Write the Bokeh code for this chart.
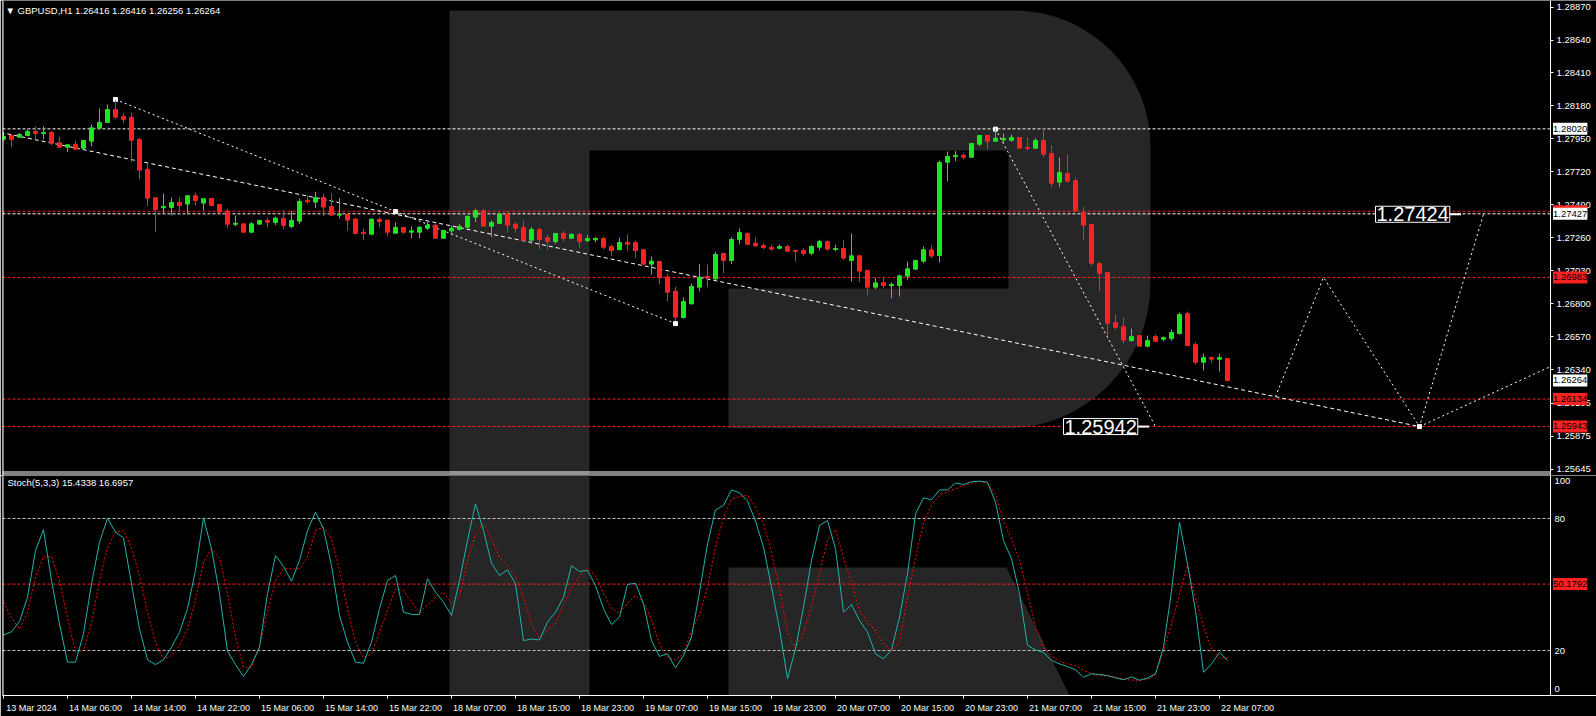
from bokeh.plotting import figure
from bokeh.layouts import column
from bokeh.models import Range1d, FixedTicker, Span, Label, BoxAnnotation, ColumnDataSource
from bokeh.embed import file_html
from bokeh.resources import INLINE
import numpy as np

# ---------------- data ----------------
opens = [1.27948,1.27974,1.27962,1.27974,1.28002,1.27988,1.27995,1.27923,1.27892,1.27911,
 1.27885,1.27934,1.28025,1.28065,1.28155,1.28107,1.28100,1.27946,1.27737,1.27539,
 1.27469,1.27471,1.27506,1.27495,1.27553,1.27502,1.27534,1.27492,1.27446,1.27355,
 1.27357,1.27299,1.27355,1.27381,1.27367,1.27394,1.27339,1.27376,1.27522,1.27509,
 1.27541,1.27478,1.27418,1.27425,1.27390,1.27297,1.27285,1.27388,1.27383,1.27292,
 1.27332,1.27299,1.27299,1.27327,1.27348,1.27257,1.27308,1.27318,1.27334,1.27404,
 1.27448,1.27341,1.27360,1.27425,1.27355,1.27332,1.27243,1.27318,1.27262,1.27234,
 1.27290,1.27257,1.27283,1.27241,1.27246,1.27255,1.27199,1.27178,1.27227,1.27227,
 1.27176,1.27076,1.27094,1.26987,1.26887,1.26703,1.26799,1.26915,1.26990,1.26973,
 1.27150,1.27101,1.27248,1.27290,1.27222,1.27206,1.27192,1.27187,1.27199,1.27171,
 1.27171,1.27152,1.27194,1.27234,1.27178,1.27185,1.27101,1.27134,1.27032,1.26915,
 1.26945,1.26925,1.26927,1.26992,1.27041,1.27097,1.27176,1.27136,1.27787,1.27825,
 1.27836,1.27822,1.27913,1.27974,1.27934,1.27943,1.27941,1.27960,1.27890,1.27885,
 1.27939,1.27848,1.27648,1.27708,1.27659,1.27436,1.27352,1.27080,1.27017,1.26668,
 1.26640,1.26542,1.26577,1.26503,1.26570,1.26552,1.26556,1.26591,1.26731,1.26514,
 1.26391,1.26424,1.26412,1.26416]
highs = [1.27990,1.27979,1.27992,1.28016,1.28037,1.28037,1.28006,1.27967,1.27916,1.27937,
 1.27944,1.28051,1.28162,1.28190,1.28218,1.28132,1.28134,1.27958,1.27776,1.27539,
 1.27569,1.27541,1.27541,1.27553,1.27576,1.27532,1.27539,1.27497,1.27462,1.27415,
 1.27357,1.27369,1.27385,1.27401,1.27408,1.27450,1.27446,1.27534,1.27555,1.27581,
 1.27567,1.27569,1.27536,1.27427,1.27397,1.27325,1.27394,1.27401,1.27385,1.27367,
 1.27332,1.27339,1.27341,1.27371,1.27357,1.27313,1.27343,1.27355,1.27416,1.27462,
 1.27464,1.27381,1.27436,1.27446,1.27371,1.27381,1.27336,1.27329,1.27283,1.27292,
 1.27306,1.27292,1.27295,1.27281,1.27264,1.27269,1.27213,1.27260,1.27283,1.27241,
 1.27180,1.27129,1.27099,1.27008,1.26915,1.26843,1.26941,1.27078,1.27073,1.27162,
 1.27150,1.27264,1.27325,1.27297,1.27262,1.27222,1.27213,1.27211,1.27213,1.27176,
 1.27190,1.27208,1.27246,1.27241,1.27211,1.27241,1.27290,1.27141,1.27036,1.26978,
 1.26980,1.26948,1.27004,1.27094,1.27108,1.27199,1.27206,1.27799,1.27862,1.27866,
 1.27848,1.27918,1.27974,1.27974,1.28020,1.27987,1.27981,1.27960,1.27960,1.27957,
 1.28027,1.27904,1.27820,1.27841,1.27680,1.27478,1.27359,1.27094,1.27017,1.26724,
 1.26703,1.26624,1.26577,1.26577,1.26582,1.26570,1.26619,1.26738,1.26745,1.26531,
 1.26452,1.26433,1.26452,1.26416]
lows = [1.27934,1.27892,1.27960,1.27969,1.27939,1.27948,1.27906,1.27885,1.27858,1.27874,
 1.27878,1.27899,1.28020,1.28060,1.28088,1.28060,1.27788,1.27669,1.27481,1.27299,
 1.27432,1.27418,1.27446,1.27425,1.27485,1.27450,1.27485,1.27434,1.27327,1.27341,
 1.27292,1.27292,1.27353,1.27332,1.27348,1.27320,1.27327,1.27355,1.27497,1.27467,
 1.27411,1.27413,1.27394,1.27311,1.27283,1.27243,1.27283,1.27334,1.27271,1.27287,
 1.27285,1.27257,1.27257,1.27313,1.27253,1.27255,1.27280,1.27311,1.27329,1.27369,
 1.27341,1.27264,1.27355,1.27297,1.27295,1.27239,1.27218,1.27180,1.27174,1.27218,
 1.27232,1.27253,1.27187,1.27229,1.27229,1.27180,1.27132,1.27171,1.27171,1.27118,
 1.27069,1.27004,1.26934,1.26817,1.26678,1.26696,1.26794,1.26887,1.26913,1.26966,
 1.27013,1.27076,1.27215,1.27206,1.27194,1.27180,1.27171,1.27180,1.27162,1.27094,
 1.27134,1.27141,1.27171,1.27171,1.27166,1.27106,1.26955,1.26950,1.26859,1.26901,
 1.26908,1.26838,1.26850,1.26966,1.27034,1.27083,1.27118,1.27087,1.27655,1.27794,
 1.27806,1.27822,1.27899,1.27876,1.27934,1.27918,1.27929,1.27885,1.27869,1.27885,
 1.27822,1.27613,1.27613,1.27645,1.27438,1.27243,1.27064,1.26887,1.26575,1.26617,
 1.26524,1.26535,1.26496,1.26496,1.26535,1.26538,1.26540,1.26584,1.26503,1.26377,
 1.26333,1.26389,1.26326,1.26256]
closes = [1.27967,1.27946,1.27981,1.28002,1.27988,1.27995,1.27920,1.27892,1.27909,1.27878,
 1.27939,1.28027,1.28065,1.28155,1.28102,1.28086,1.27941,1.27732,1.27536,1.27457,
 1.27478,1.27506,1.27485,1.27553,1.27520,1.27532,1.27485,1.27439,1.27355,1.27360,
 1.27299,1.27357,1.27381,1.27369,1.27397,1.27346,1.27381,1.27513,1.27511,1.27541,
 1.27474,1.27418,1.27425,1.27383,1.27290,1.27290,1.27390,1.27374,1.27299,1.27332,
 1.27299,1.27308,1.27334,1.27348,1.27257,1.27311,1.27325,1.27339,1.27409,1.27448,
 1.27341,1.27367,1.27425,1.27348,1.27327,1.27243,1.27318,1.27248,1.27234,1.27290,
 1.27257,1.27283,1.27234,1.27255,1.27255,1.27194,1.27171,1.27227,1.27215,1.27171,
 1.27076,1.27097,1.26980,1.26880,1.26706,1.26815,1.26920,1.26985,1.26980,1.27143,
 1.27101,1.27248,1.27297,1.27215,1.27204,1.27192,1.27180,1.27199,1.27166,1.27166,
 1.27150,1.27199,1.27234,1.27180,1.27185,1.27118,1.27134,1.27027,1.26915,1.26945,
 1.26927,1.26934,1.26994,1.27043,1.27101,1.27176,1.27132,1.27785,1.27827,1.27836,
 1.27822,1.27918,1.27974,1.27934,1.27955,1.27953,1.27960,1.27885,1.27885,1.27939,
 1.27843,1.27641,1.27715,1.27655,1.27450,1.27348,1.27082,1.27012,1.26663,1.26633,
 1.26545,1.26570,1.26503,1.26542,1.26538,1.26563,1.26598,1.26724,1.26508,1.26391,
 1.26424,1.26412,1.26424,1.26264]

stoch_k = [27.1,28.5,33.2,44.2,65.5,74.9,51.8,32.1,14.7,14.7,
 27.6,50.3,69.2,80.1,73.8,71.2,50.3,29.8,15.8,13.6,
 15.8,21.5,28.3,39.0,56.4,80.3,66.2,45.8,19.7,13.6,
 8.2,13.6,21.5,45.8,63.2,58.2,51.5,60.9,74.5,82.9,
 75.3,58.6,35.9,23.8,14.7,14.2,23.8,39.0,51.8,54.1,
 37.4,36.4,36.4,52.6,46.5,42.0,35.9,51.8,70.0,86.7,
 74.5,59.7,54.1,56.7,50.3,24.5,25.2,24.8,32.9,37.4,
 44.2,58.6,55.9,56.4,49.5,39.0,31.8,35.2,50.0,50.6,
 41.2,24.5,17.3,18.5,12.1,17.7,26.1,46.5,68.5,83.9,
 85.9,93.0,91.7,87.9,78.8,67.0,48.8,29.8,7.1,20.8,
 39.7,60.9,76.8,79.1,66.2,37.4,40.9,33.6,28.3,18.5,
 16.2,20.3,35.2,54.8,82.1,89.4,88.5,93.0,93.0,96.1,
 95.5,96.7,97.0,96.5,87.4,70.0,61.7,45.8,22.3,20.3,
 19.1,15.5,13.9,12.7,11.2,7.9,9.4,9.1,8.6,7.6,
 6.7,8.0,6.5,7.5,9.4,21.5,47.0,78.3,59.4,38.0,
 10.1,13.9,19.2,15.4338]
stoch_d = [42.0,34.9,29.8,37.4,53.3,62.4,62.7,51.8,35.1,19.2,
 20.0,32.4,51.8,66.7,73.8,74.5,66.7,54.1,37.4,23.8,
 15.8,17.7,22.3,29.8,42.7,60.2,66.2,62.4,45.8,26.1,
 12.4,12.4,22.3,37.4,51.8,57.1,57.1,57.1,62.4,74.5,
 76.1,70.8,56.4,39.0,23.8,16.7,18.5,28.3,38.2,48.0,
 47.3,42.0,37.4,40.5,44.2,46.5,41.5,44.2,60.9,73.0,
 77.6,70.8,62.4,58.5,53.5,44.2,32.0,25.3,29.5,32.1,
 41.0,48.5,53.5,57.6,54.0,46.0,39.0,37.0,41.5,45.0,
 42.0,34.0,23.0,17.0,15.6,18.5,29.0,36.2,48.8,67.0,
 80.5,88.8,90.0,90.5,85.2,78.0,64.5,48.0,28.0,21.0,
 28.0,40.0,55.0,70.0,75.0,62.0,51.0,38.0,33.0,29.0,
 23.0,19.5,24.0,44.0,62.0,78.0,86.0,90.5,92.2,93.5,
 95.0,96.0,96.8,96.0,91.0,78.5,71.0,61.0,46.0,31.0,
 21.5,17.5,15.3,13.9,13.0,11.0,9.5,8.6,8.4,7.9,
 7.0,6.5,6.5,6.8,9.0,20.0,32.0,45.8,58.6,44.0,
 31.0,21.0,16.6,16.6957]

time_labels = ["13 Mar 2024","14 Mar 06:00","14 Mar 14:00","14 Mar 22:00","15 Mar 06:00",
 "15 Mar 14:00","15 Mar 22:00","18 Mar 07:00","18 Mar 15:00","18 Mar 23:00",
 "19 Mar 07:00","19 Mar 15:00","19 Mar 23:00","20 Mar 07:00","20 Mar 15:00",
 "20 Mar 23:00","21 Mar 07:00","21 Mar 15:00","21 Mar 23:00","22 Mar 07:00"]
time_label_bars = list(range(0, 153, 8))

price_tick_labels = ["1.28870","1.28640","1.28410","1.28180","1.27950","1.27720","1.27490",
 "1.27260","1.27030","1.26800","1.26570","1.26340","1.26105","1.25875","1.25645"]

white_levels = [1.28020, 1.27427]
red_levels = [1.27445, 1.26983, 1.26134, 1.25943]
price_flags = [("1.28020", 1.28020, "white"), ("1.27445", 1.27445, "#FF2020"),
               ("1.27427", 1.27427, "white"), ("1.26983", 1.26983, "#FF2020"),
               ("1.26264", 1.26264, "white"), ("1.26134", 1.26134, "#FF2020"),
               ("1.25943", 1.25943, "#FF2020")]

trend_a_x = [14, 49];        trend_a_y = [1.28225, 1.27443]
trend_b_x = [49, 84];        trend_b_y = [1.27443, 1.26661]
trend_c_x = [-0.375, 177];   trend_c_y = [1.27995, 1.25942]
trend_d_x = [124, 144];      trend_d_y = [1.28020, 1.25942]
path_x = [159, 165, 177, 185];  path_y = [1.26151, 1.26983, 1.25942, 1.27424]
path2_x = [177, 193.375];    path2_y = [1.25942, 1.26361]
node_x = [14, 49, 84, 124, 177]
node_y = [1.28225, 1.27443, 1.26661, 1.28018, 1.25942]
target_texts = ["1.27424", "1.25942"]
target_bars = [171.5, 132.5]
target_prices = [1.27424, 1.25942]

stoch_levels = [80, 20]
stoch_signal_level = 50.1792
header_text = "\u25BC GBPUSD,H1  1.26416 1.26416 1.26256 1.26264"
stoch_text = "Stoch(5,3,3) 15.4338 16.6957"

# ---------------- helpers (reference-pixel -> data, for decorations) ----------------
def bx(px):
    return (px - 3.0) / 8.0

def py(px):
    return 1.28916 - 0.0000698 * px

def sv(px):
    return (694.0 - px) / 2.2

GREEN = "#1EE61E"
RED = "#FF2020"
GRAY = "#262626"
CYAN = "#20B2AA"
FONT = "Liberation Sans"

W, H = 1596, 716
SPLIT = 475            # bottom of the price panel canvas
X0, X1 = bx(2), bx(W)
AX = bx(1550)          # location of the price / stoch scale line

def style_right_axis(ax, ticks, overrides, tick_out, standoff):
    ax.fixed_location = AX
    ax.ticker = FixedTicker(ticks=ticks)
    ax.major_label_overrides = overrides
    ax.axis_line_color = "white"
    ax.major_tick_line_color = "white" if tick_out else None
    ax.major_tick_out = tick_out
    ax.major_tick_in = 0
    ax.minor_tick_line_color = None
    ax.major_label_standoff = standoff
    ax.major_label_text_color = "white"
    ax.major_label_text_font = FONT
    ax.major_label_text_font_size = "9.5px"

# ---------------- price panel ----------------
p1 = figure(width=W, height=SPLIT, x_range=Range1d(X0, X1), y_range=Range1d(py(SPLIT), py(0)),
            y_axis_location="right", x_axis_location=None, toolbar_location=None,
            output_backend="svg", background_fill_color="black", border_fill_color="black",
            outline_line_color=None, min_border_left=2, min_border_right=0,
            min_border_top=0, min_border_bottom=0)
p1.grid.visible = False

# watermark
p1.add_layout(BoxAnnotation(left=bx(449), right=bx(1150), top=py(10), bottom=py(428),
                            fill_color=GRAY, fill_alpha=1, line_color=None, level="underlay",
                            border_radius=dict(top_left=0, top_right=136, bottom_right=145, bottom_left=0)))
p1.add_layout(BoxAnnotation(left=bx(449), right=bx(589), top=py(427), bottom=py(SPLIT),
                            fill_color=GRAY, fill_alpha=1, line_color=None, level="underlay"))
p1.add_layout(BoxAnnotation(left=bx(589), right=bx(1008), top=py(150), bottom=py(288),
                            fill_color="black", fill_alpha=1, line_color=None, level="underlay"))
p1.add_layout(BoxAnnotation(left=bx(589), right=bx(728), top=py(287), bottom=py(430),
                            fill_color="black", fill_alpha=1, line_color=None, level="underlay"))

# panel borders (double separator line, drawn as 1px filled strips)
p1.add_layout(Span(location=X0, dimension="height", line_color="white", line_width=2))
p1.quad(left=[X0, X0], right=[AX, AX], top=[py(471), py(473)], bottom=[py(472), py(474)],
        fill_color="white", line_color=None)

# horizontal levels (end at the price scale)
n_r = len(red_levels); n_w = len(white_levels)
p1.segment(x0=[X0] * n_r, y0=red_levels, x1=[AX] * n_r, y1=red_levels,
           line_color=RED, line_dash="3 2", line_width=1)
p1.segment(x0=[X0] * n_w, y0=white_levels, x1=[AX] * n_w, y1=white_levels,
           line_color="white", line_dash="3 2", line_width=1)

# trend lines
p1.line(trend_c_x, trend_c_y, line_color="white", line_dash="4 3", line_width=1)
p1.line(trend_a_x, trend_a_y, line_color="white", line_dash="2 3", line_width=1)
p1.line(trend_b_x, trend_b_y, line_color="white", line_dash="2 3", line_width=1)
p1.line(trend_d_x, trend_d_y, line_color="white", line_dash="2 3", line_width=1)
p1.line(path_x, path_y, line_color="white", line_dash="2 3", line_width=1)
p1.line(path2_x, path2_y, line_color="white", line_dash="2 3", line_width=1)
p1.scatter(node_x, node_y, marker="square", size=4, color="white")

# candles
o = np.array(opens); c = np.array(closes)
up = c >= o
top = np.maximum(o, c); bot = np.minimum(o, c)
min_h = 0.00007
mid = (top + bot) / 2
small = (top - bot) < min_h
top = np.where(small, mid + min_h / 2, top)
bot = np.where(small, mid - min_h / 2, bot)
src = ColumnDataSource(dict(x=np.arange(len(opens)), top=top, bot=bot, high=highs, low=lows,
                            color=np.where(up, GREEN, RED)))
p1.segment("x", "high", "x", "low", source=src, line_color="color", line_width=1)
p1.vbar(x="x", width=0.5, top="top", bottom="bot", source=src,
        fill_color="color", line_color="color", line_width=1)

# target labels
for t, b, v in zip(target_texts, target_bars, target_prices):
    p1.add_layout(Label(x=b, y=v, text=t, text_font=FONT, text_font_size="20px",
                        text_color="white", text_align="left", text_baseline="middle",
                        background_fill_color="black", border_line_color="white",
                        border_line_width=1, padding=1))
    p1.segment(x0=b + 9.3, y0=v, x1=b + 10.7, y1=v, line_color="white", line_width=2)

p1.add_layout(Label(x=bx(5), y=py(10), text=header_text, text_font=FONT, text_font_size="9.5px",
                    text_color="white", text_align="left", text_baseline="middle"))

# price scale
price_ticks = [float(s) for s in price_tick_labels]
style_right_axis(p1.yaxis[0], price_ticks, {float(s): s for s in price_tick_labels}, 3, 3)

for txt, v, bg in price_flags:
    p1.add_layout(Label(x=AX, y=v, x_offset=2.5, text=txt, text_font=FONT, text_font_size="9.5px",
                        text_color="black", text_align="left", text_baseline="middle",
                        background_fill_color=bg, padding=(0, 3)))

# ---------------- stochastic panel ----------------
p2 = figure(width=W, height=H - SPLIT, x_range=p1.x_range, y_range=Range1d(sv(695), sv(SPLIT)),
            y_axis_location="right", toolbar_location=None, output_backend="svg",
            background_fill_color="black", border_fill_color="black", outline_line_color=None,
            min_border_left=2, min_border_right=0, min_border_top=0, min_border_bottom=21)
p2.grid.visible = False

p2.add_layout(BoxAnnotation(left=bx(449), right=bx(589), top=sv(SPLIT), bottom=sv(695),
                            fill_color=GRAY, fill_alpha=1, line_color=None, level="underlay"))
p2.patch([bx(728), bx(1006), bx(1069), bx(728)], [sv(567), sv(567), sv(695), sv(695)],
         fill_color=GRAY, line_color=None, level="underlay")
p2.add_layout(Span(location=X0, dimension="height", line_color="white", line_width=2))

p2.segment(x0=[X0, X0], y0=stoch_levels, x1=[AX, AX], y1=stoch_levels,
           line_color="#C0C0C0", line_dash="3 2", line_width=1)
p2.segment(x0=[X0], y0=[stoch_signal_level], x1=[AX], y1=[stoch_signal_level],
           line_color=RED, line_dash="3 2", line_width=1)

bars = np.arange(len(stoch_k))
p2.line(bars, stoch_d, line_color="#FF0000", line_dash="2 2", line_width=1)
p2.line(bars, stoch_k, line_color=CYAN, line_width=1)

p2.add_layout(Label(x=bx(7), y=sv(482), text=stoch_text, text_font=FONT, text_font_size="9.5px",
                    text_color="white", text_align="left", text_baseline="middle"))

sticks = [sv(688), 20.0, 80.0, sv(480)]
style_right_axis(p2.yaxis[0], sticks, {sticks[0]: "0", 20.0: "20", 80.0: "80", sticks[3]: "100"}, 0, 4)

p2.add_layout(Label(x=AX, y=stoch_signal_level, x_offset=2.5, text="50.1792", text_font=FONT,
                    text_font_size="9.5px", text_color="black", text_align="left",
                    text_baseline="middle", background_fill_color=RED, padding=(0, 3)))

xa = p2.xaxis[0]
label_pos = [b + 3.5 for b in time_label_bars]
xa.ticker = FixedTicker(ticks=label_pos, minor_ticks=time_label_bars)
xa.major_label_overrides = {pos: t for pos, t in zip(label_pos, time_labels)}
xa.axis_line_color = "white"
xa.major_tick_line_color = None
xa.major_tick_out = 0
xa.major_tick_in = 0
xa.minor_tick_line_color = "white"
xa.minor_tick_out = 3
xa.minor_tick_in = 0
xa.major_label_standoff = 4
xa.major_label_text_color = "white"
xa.major_label_text_font = FONT
xa.major_label_text_font_size = "9px"

p = column(p1, p2, spacing=0)
open("out.html", "w").write(file_html(p, INLINE))
